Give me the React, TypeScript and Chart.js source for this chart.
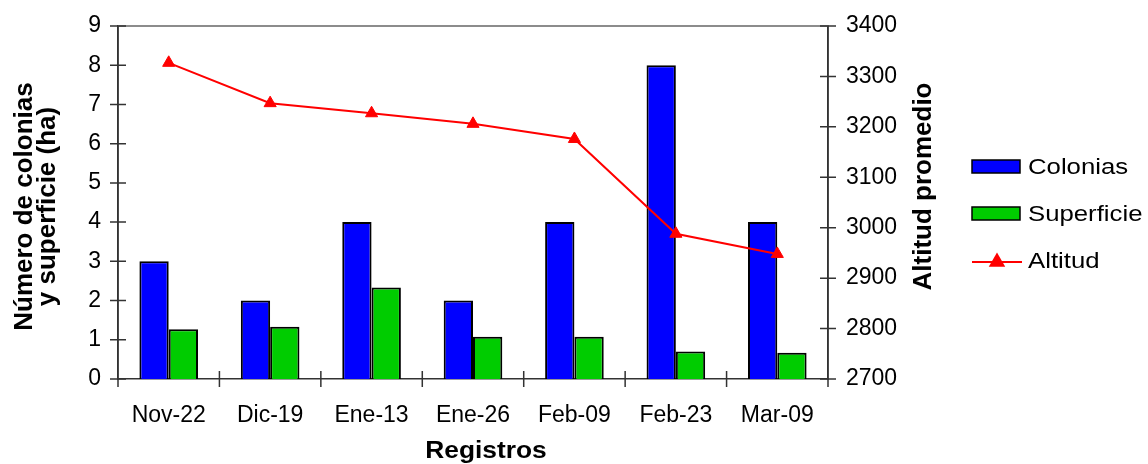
import React, { useEffect, useRef } from "react";
import { Chart, registerables } from "chart.js";

Chart.register(...registerables);

// Registros de campo
const registros = ["Nov-22", "Dic-19", "Ene-13", "Ene-26", "Feb-09", "Feb-23", "Mar-09"];
const colonias = [3, 2, 4, 2, 4, 8, 4];
const superficie = [1.27, 1.33, 2.33, 1.08, 1.08, 0.7, 0.67];
const altitud = [3327, 3247, 3227, 3206, 3176, 2988, 2948];

// Rangos de los ejes
const ejeConteo = { min: 0, max: 9, paso: 1 };
const ejeAltitud = { min: 2700, max: 3400, paso: 100 };

const FUENTE = '"Liberation Sans", Arial, Helvetica, sans-serif';
const EJE_COLOR = "#333333";

function texto(
  ctx: CanvasRenderingContext2D,
  s: string,
  x: number,
  y: number,
  font: string,
  sx: number,
  rotado: boolean,
  align: CanvasTextAlign
) {
  ctx.save();
  ctx.translate(x, y);
  if (rotado) ctx.rotate(-Math.PI / 2);
  ctx.scale(sx, 1);
  ctx.font = font;
  ctx.fillStyle = "#000";
  ctx.textAlign = align;
  ctx.textBaseline = "alphabetic";
  ctx.fillText(s, 0, 0);
  ctx.restore();
}

function triangulo(ctx: CanvasRenderingContext2D, cx: number, cy: number, r: number, color: string) {
  ctx.beginPath();
  let rad = 0;
  ctx.moveTo(cx + Math.sin(rad) * r, cy - Math.cos(rad) * r);
  rad += (2 * Math.PI) / 3;
  ctx.lineTo(cx + Math.sin(rad) * r, cy - Math.cos(rad) * r);
  rad += (2 * Math.PI) / 3;
  ctx.lineTo(cx + Math.sin(rad) * r, cy - Math.cos(rad) * r);
  ctx.closePath();
  ctx.fillStyle = color;
  ctx.fill();
}

// Marco del área, marcas cruzadas, títulos y leyenda
const marcoPlugin = {
  id: "marco",
  afterDraw(chart: any) {
    const { ctx, chartArea: a, scales } = chart;
    const x = scales.x;
    const y = scales.y;
    const y1 = scales.y1;
    ctx.save();

    ctx.strokeStyle = "#8c8c8c";
    ctx.lineWidth = 2;
    ctx.beginPath();
    ctx.moveTo(a.left, a.top);
    ctx.lineTo(a.right, a.top);
    ctx.stroke();

    ctx.strokeStyle = EJE_COLOR;
    ctx.lineWidth = 1.5;
    ctx.beginPath();
    y.ticks.forEach((t: any) => {
      const p = y.getPixelForValue(t.value);
      ctx.moveTo(a.left - 8, p);
      ctx.lineTo(a.left + 8, p);
    });
    y1.ticks.forEach((t: any) => {
      const p = y1.getPixelForValue(t.value);
      ctx.moveTo(a.right - 8, p);
      ctx.lineTo(a.right + 8, p);
    });
    const n = chart.data.labels.length;
    for (let i = 0; i <= n; i++) {
      let px: number;
      if (i === 0) px = a.left;
      else if (i === n) px = a.right;
      else px = (x.getPixelForValue(i - 1) + x.getPixelForValue(i)) / 2;
      ctx.moveTo(px, a.bottom - 8);
      ctx.lineTo(px, a.bottom + 8);
    }
    ctx.moveTo(a.left, a.top);
    ctx.lineTo(a.left, a.bottom + 8);
    ctx.moveTo(a.right, a.top);
    ctx.lineTo(a.right, a.bottom + 8);
    ctx.stroke();

    // Títulos de los ejes
    const negrita = `bold 26px ${FUENTE}`;
    const medioY = (a.top + a.bottom) / 2;
    texto(ctx, "Número de colonias", 32, medioY + 4, negrita, 1, true, "center");
    texto(ctx, "y superficie (ha)", 55, medioY + 4, negrita, 1, true, "center");
    texto(ctx, "Altitud promedio", 931, medioY - 16, negrita, 1, true, "center");
    texto(ctx, "Registros", (a.left + a.right) / 2 + 13, 458, `bold 23.5px ${FUENTE}`, 1.12, false, "center");

    // Leyenda
    const filas = [166.5, 213.5, 262];
    const base = [173.5, 221, 267.5];
    const ds = chart.data.datasets;
    ds.forEach((d: any, i: number) => {
      const cy = filas[i];
      if (d.type === "line") {
        ctx.strokeStyle = d.borderColor;
        ctx.lineWidth = 2;
        ctx.beginPath();
        ctx.moveTo(972, cy);
        ctx.lineTo(1022, cy);
        ctx.stroke();
        triangulo(ctx, 997, cy, 9.5, d.pointBackgroundColor);
      } else {
        ctx.fillStyle = d.backgroundColor;
        ctx.fillRect(972, cy - 6.5, 48, 13);
        ctx.strokeStyle = "#000";
        ctx.lineWidth = 1.5;
        ctx.strokeRect(972, cy - 6.5, 48, 13);
      }
      texto(ctx, d.label, 1028, base[i], `22px ${FUENTE}`, 1.17, false, "left");
    });

    ctx.restore();
  },
};

export default function App() {
  const ref = useRef<HTMLCanvasElement | null>(null);

  useEffect(() => {
    if (!ref.current) return;
    const tickFont = { family: FUENTE, size: 23 };
    const chart = new Chart(ref.current, {
      type: "bar",
      data: {
        labels: registros,
        datasets: [
          {
            type: "bar",
            label: "Colonias",
            data: colonias,
            yAxisID: "y",
            backgroundColor: "#0000ff",
            borderColor: "#000000",
            borderWidth: 2,
            categoryPercentage: 0.578,
            barPercentage: 1,
            order: 2,
          },
          {
            type: "bar",
            label: "Superficie",
            data: superficie,
            yAxisID: "y",
            backgroundColor: "#00cc00",
            borderColor: "#000000",
            borderWidth: 2,
            categoryPercentage: 0.578,
            barPercentage: 1,
            order: 2,
          },
          {
            type: "line",
            label: "Altitud",
            data: altitud,
            yAxisID: "y1",
            borderColor: "#ff0000",
            backgroundColor: "#ff0000",
            borderWidth: 2,
            tension: 0,
            pointStyle: "triangle",
            pointRadius: 7,
            pointBackgroundColor: "#ff0000",
            pointBorderColor: "#ff0000",
            pointBorderWidth: 1,
            order: 0,
          },
        ],
      } as any,
      options: {
        responsive: false,
        animation: false,
        layout: { padding: { top: 26, left: 0, right: 0, bottom: 0 } },
        plugins: {
          legend: { display: false },
          tooltip: { enabled: false },
        },
        scales: {
          x: {
            grid: { display: false },
            border: { display: true, color: EJE_COLOR, width: 1.5 },
            ticks: {
              font: tickFont,
              color: "#000",
              padding: 15,
              maxRotation: 0,
              autoSkip: false,
            },
            afterFit: (s: any) => {
              s.height = 85;
            },
          },
          y: {
            position: "left",
            min: ejeConteo.min,
            max: ejeConteo.max,
            grid: { display: false },
            border: { display: true, color: EJE_COLOR, width: 1.5 },
            ticks: {
              stepSize: ejeConteo.paso,
              font: tickFont,
              color: "#000",
              padding: 9,
              callback: (v: any) => String(v),
            },
            afterFit: (s: any) => {
              s.width = 118;
            },
          },
          y1: {
            position: "right",
            min: ejeAltitud.min,
            max: ejeAltitud.max,
            grid: { display: false },
            border: { display: true, color: EJE_COLOR, width: 1.5 },
            ticks: {
              stepSize: ejeAltitud.paso,
              font: tickFont,
              color: "#000",
              padding: 10,
              callback: (v: any) => String(v),
            },
            afterFit: (s: any) => {
              s.width = 320;
            },
          },
        },
      } as any,
      plugins: [marcoPlugin],
    });
    return () => chart.destroy();
  }, []);

  return (
    <div style={{ position: "absolute", left: 0, top: 0, width: 1148, height: 464, background: "#fff" }}>
      <canvas ref={ref} width={1148} height={464} style={{ display: "block" }} />
    </div>
  );
}
